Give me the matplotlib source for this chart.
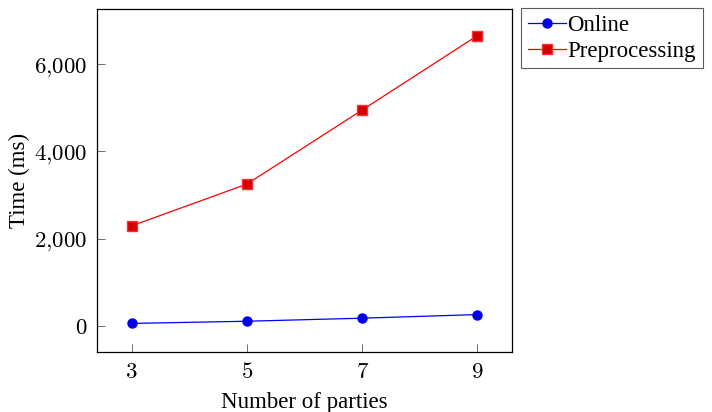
import matplotlib.pyplot as plt
from matplotlib.ticker import FuncFormatter

parties = [3, 5, 7, 9]
online = [55, 105, 175, 258]
preprocessing = [2290, 3248, 4945, 6650]

plt.rcParams["font.family"] = ["Liberation Serif", "DejaVu Serif"]
plt.rcParams["mathtext.fontset"] = "cm"

fig = plt.figure(figsize=(7.12, 4.12), dpi=100)
ax = fig.add_axes([97 / 712, 60 / 412, 415 / 712, 343 / 412])

ax.plot(parties, online, color="blue", lw=0.9, marker="o", ms=6.5,
        markerfacecolor="#0000e0", markeredgecolor="blue", label="Online")
ax.plot(parties, preprocessing, color="red", lw=0.9, marker="s", ms=6.5,
        markerfacecolor="#d00000", markeredgecolor="#ff3030", label="Preprocessing")

ax.set_xlim(2.4, 9.6)
ax.set_ylim(-600, 7260)
ax.set_xticks(parties)
ax.set_yticks([0, 2000, 4000, 6000])
ax.xaxis.set_major_formatter(FuncFormatter(lambda v, p: f"${int(v)}$"))
ax.yaxis.set_major_formatter(FuncFormatter(lambda v, p: "$" + f"{int(v):,}".replace(",", "{,}") + "$"))
ax.tick_params(direction="in", length=6, width=0.6, color="#555555", labelsize=16.5, pad=7)

for s in ax.spines.values():
    s.set_linewidth(0.9)

ax.set_xlabel("Number of parties", fontsize=16.5, labelpad=7)
ax.set_ylabel("Time (ms)", fontsize=16.5, labelpad=3)

leg = ax.legend(loc="upper left", bbox_to_anchor=(521 / 712, 404 / 412), bbox_transform=fig.transFigure,
                fontsize=16.5, frameon=True, fancybox=False, edgecolor="#333333",
                handlelength=1.65, handletextpad=0.08, borderpad=0.3, labelspacing=0.2,
                borderaxespad=0)
leg.get_frame().set_linewidth(0.8)

fig.savefig("out.png", dpi=100)
